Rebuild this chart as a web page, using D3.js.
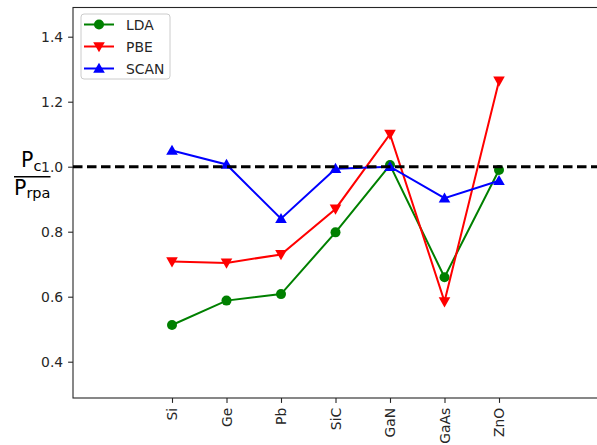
<!DOCTYPE html>
<html><head><meta charset="utf-8">
<script src="https://cdn.jsdelivr.net/npm/d3@7"></script>
<style>body{margin:0;background:#fff;} text{font-family:"DejaVu Sans",sans-serif;}</style>
</head><body>
<svg id="c" width="597" height="445"></svg>
<script>
const categories = ["Si","Ge","Pb","SiC","GaN","GaAs","ZnO"];
const lda  = [0.513, 0.588, 0.608, 0.798, 1.005, 0.660, 0.990];
const pbe  = [0.708, 0.704, 0.730, 0.870, 1.100, 0.585, 1.264];
const scan = [1.050, 1.007, 0.840, 0.994, 1.000, 0.903, 0.957];
const yTicks = [0.4, 0.6, 0.8, 1.0, 1.2, 1.4];
const series = [
  {name:"LDA", values:lda, color:"green", marker:"circle"},
  {name:"PBE", values:pbe, color:"red", marker:"tdown"},
  {name:"SCAN", values:scan, color:"blue", marker:"tup"}
];

const svg = d3.select("#c");
const L = 73, R = 620, T = 7.5, B = 398;
const x = d3.scaleLinear().domain([0, 6]).range([172, 499]);
const y = d3.scaleLinear().domain([1.4, 1.0]).range([36.7, 166.7]);

// spines
const g = svg.append("g");
g.append("rect").attr("x", L).attr("y", T).attr("width", R - L).attr("height", B - T)
  .attr("fill", "none").attr("stroke", "#262626").attr("stroke-width", 1.1);

// y axis
const yAxis = d3.axisLeft(y).tickValues(yTicks).tickFormat(d3.format(".1f")).tickSize(4.9).tickPadding(4.9);
const ya = svg.append("g").attr("transform", `translate(${L},0)`).call(yAxis);
ya.select(".domain").remove();
ya.selectAll("text").attr("font-size", "13.9px").attr("fill", "#262626").attr("font-family", "DejaVu Sans");
ya.selectAll("line").attr("stroke", "#262626").attr("stroke-width", 1.1);

// x axis
const xAxis = d3.axisBottom(x).tickValues(d3.range(categories.length)).tickFormat(i => categories[i]).tickSize(4.9).tickPadding(4.9);
const xa = svg.append("g").attr("transform", `translate(0,${B})`).call(xAxis);
xa.select(".domain").remove();
xa.selectAll("line").attr("stroke", "#262626").attr("stroke-width", 1.1);
xa.selectAll("text").attr("font-size", "13.9px").attr("fill", "#262626").attr("font-family", "DejaVu Sans")
  .attr("transform", "rotate(-90)").attr("text-anchor", "end").attr("dy", "0.35em")
  .attr("x", -9.8).attr("y", 0);

// symbol
function markerPath(type) {
  if (type === "circle") return d3.symbol().type(d3.symbolCircle).size(Math.PI * 25)();
  const s = 5.8;
  if (type === "tup") return `M0,${-s}L${s},${s*0.75}L${-s},${s*0.75}Z`;
  return `M0,${s}L${s},${-s*0.75}L${-s},${-s*0.75}Z`;
}

const line = d3.line().x((d, i) => x(i)).y(d => y(d));
series.forEach(s => {
  svg.append("path").datum(s.values).attr("d", line).attr("fill", "none")
    .attr("stroke", s.color).attr("stroke-width", 2);
  svg.selectAll(null).data(s.values).enter().append("path")
    .attr("d", markerPath(s.marker))
    .attr("transform", (d, i) => `translate(${x(i)},${y(d)})`)
    .attr("fill", s.color);
});

// dashed reference line
svg.append("line").attr("x1", L).attr("x2", R).attr("y1", y(1.0)).attr("y2", y(1.0))
  .attr("stroke", "black").attr("stroke-width", 3).attr("stroke-dasharray", "9.5,4.5");

// legend
const lg = svg.append("g");
lg.append("rect").attr("x", 81).attr("y", 14).attr("width", 89).attr("height", 65).attr("rx", 3)
  .attr("fill", "white").attr("fill-opacity", 0.8).attr("stroke", "#cccccc").attr("stroke-width", 1);
series.forEach((s, i) => {
  const yy = 24.5 + i * 22;
  lg.append("line").attr("x1", 84).attr("x2", 114).attr("y1", yy).attr("y2", yy)
    .attr("stroke", s.color).attr("stroke-width", 2);
  lg.append("path").attr("d", markerPath(s.marker)).attr("transform", `translate(99,${yy})`).attr("fill", s.color);
  lg.append("text").attr("x", 126).attr("y", yy).attr("dy", "0.36em").attr("font-size", "13.9px")
    .attr("fill", "#262626").text(s.name);
});

// y label: fraction Pc / Prpa
const yl = svg.append("g");
const t1 = yl.append("text").attr("x", 21).attr("y", 167).attr("font-size", "20.5px").attr("fill", "black");
t1.append("tspan").text("P");
t1.append("tspan").attr("font-size", "14.5px").attr("dy", 4).text("c");
yl.append("line").attr("x1", 14).attr("x2", 50.5).attr("y1", 176.7).attr("y2", 176.7)
  .attr("stroke", "black").attr("stroke-width", 1.4);
const t2 = yl.append("text").attr("x", 14).attr("y", 195).attr("font-size", "20.5px").attr("fill", "black");
t2.append("tspan").text("P");
t2.append("tspan").attr("font-size", "14.5px").attr("dy", 3).text("rpa");
</script>
</body></html>
